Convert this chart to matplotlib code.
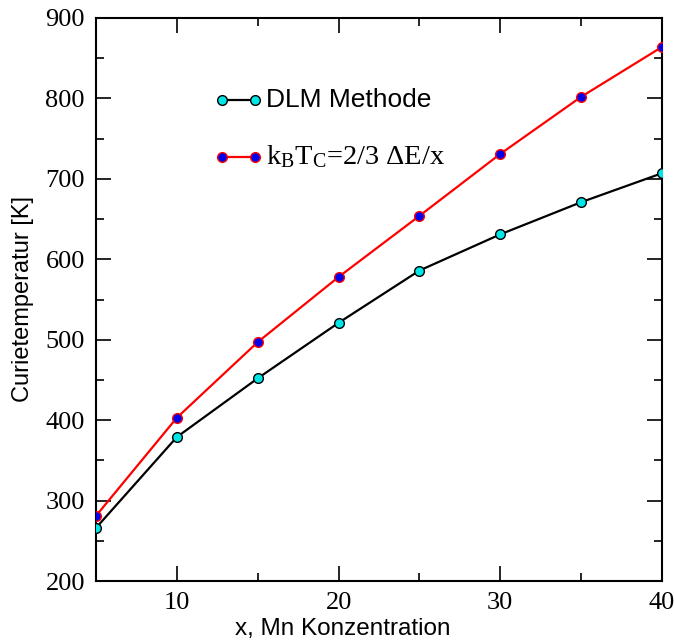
import matplotlib
matplotlib.use("Agg")
import matplotlib.pyplot as plt
from matplotlib.ticker import MultipleLocator

plt.rcParams["mathtext.fontset"] = "custom"
plt.rcParams["mathtext.rm"] = "Liberation Serif"
plt.rcParams["mathtext.it"] = "Liberation Serif:italic"

# data
x_conc = [5, 10, 15, 20, 25, 30, 35, 40]
tc_dlm = [266, 379, 452, 521, 586, 631, 671, 707]
tc_estimate = [281, 403, 497, 578, 654, 731, 802, 864]

label_dlm = "DLM Methode"
label_est = r"$\mathregular{k_B T_C}$=2/3 $\mathregular{\Delta}$E/x"

serif = "Liberation Serif"
sans = "Liberation Sans"

fig = plt.figure(figsize=(6.74, 6.42), dpi=100)
ax = fig.add_axes([96 / 674, 61 / 642, 566 / 674, 563 / 642])

ax.plot(x_conc, tc_dlm, color="black", lw=1.6, marker="o", ms=7,
        mfc="#00e5e5", mec="black", mew=1.0, zorder=3)
ax.plot(x_conc, tc_estimate, color="red", lw=1.6, marker="o", ms=7,
        mfc="#0000ee", mec="red", mew=1.0, zorder=3)

ax.set_xlim(5, 40)
ax.set_ylim(200, 900)
ax.xaxis.set_minor_locator(MultipleLocator(5))
ax.yaxis.set_major_locator(MultipleLocator(100))
ax.yaxis.set_minor_locator(MultipleLocator(50))
ax.set_xticks([10, 20, 30, 40])

ax.tick_params(which="both", direction="in", top=True, right=True, width=1.2)
ax.tick_params(which="major", length=11, labelsize=19, pad=8)
ax.tick_params(which="minor", length=6)
for lab in ax.get_xticklabels() + ax.get_yticklabels():
    lab.set_fontfamily(serif)
for sp in ax.spines.values():
    sp.set_linewidth(1.5)

ax.set_xlabel("x, Mn Konzentration", fontsize=17.5, family=sans, labelpad=2)
ax.xaxis.set_label_coords(0.436, -0.065)
ax.set_ylabel("Curietemperatur [K]", fontsize=17, family=sans, labelpad=8)

# legend drawn by hand, like the original
lx = [0.222, 0.281]
ax.plot(lx, [0.854, 0.854], transform=ax.transAxes, color="black", lw=1.6,
        marker="o", ms=7, mfc="#00e5e5", mec="black", mew=1.0)
ax.text(0.30, 0.854, label_dlm, transform=ax.transAxes, fontsize=19,
        family=sans, va="center")
ax.plot(lx, [0.753, 0.753], transform=ax.transAxes, color="red", lw=1.6,
        marker="o", ms=7, mfc="#0000ee", mec="red", mew=1.0)
ax.text(0.30, 0.753, label_est, transform=ax.transAxes, fontsize=20.5,
        family=serif, va="center")

fig.savefig("out.png", dpi=100)
